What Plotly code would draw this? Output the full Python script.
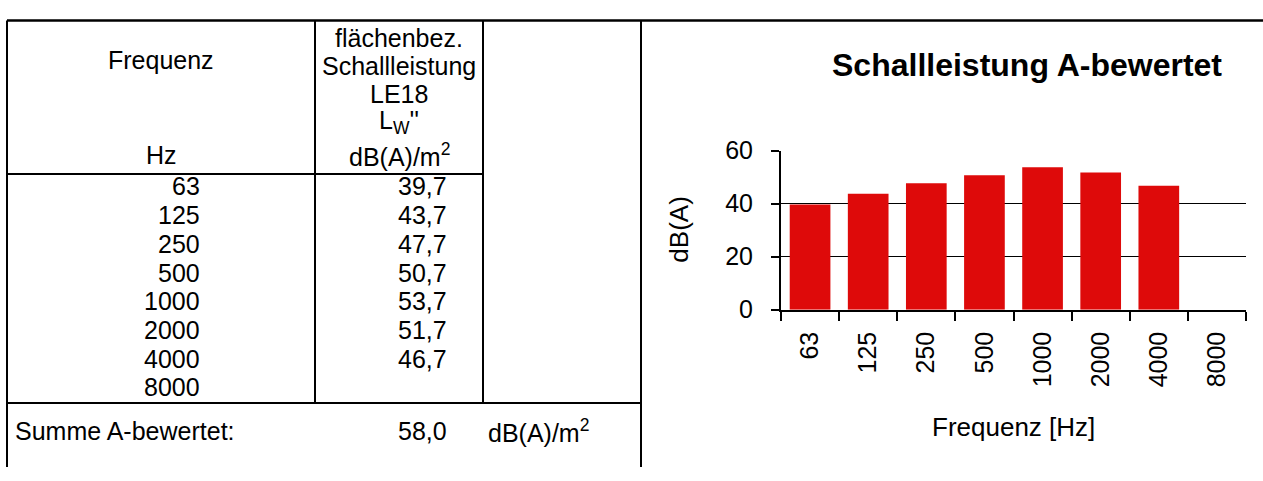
import plotly.graph_objects as go

# ---------------- data ----------------
freq_labels = ["63", "125", "250", "500", "1000", "2000", "4000", "8000"]
lw_values = [39.7, 43.7, 47.7, 50.7, 53.7, 51.7, 46.7, None]
sum_value = 58.0
y_ticks = [0, 20, 40, 60]

col1_header = ["Frequenz", "Hz"]
col2_header = ["flächenbez.", "Schallleistung", "LE18", "L<sub>W</sub>''", "dB(A)/m<sup>2</sup>"]
sum_label = "Summe A-bewertet:"
sum_unit = "dB(A)/m<sup>2</sup>"
chart_title = "<b>Schallleistung A-bewertet</b>"
x_title = "Frequenz [Hz]"
y_title = "dB(A)"

W, H = 1263, 481
FONT = "Liberation Sans, Arial, sans-serif"
RED = "#DE0A0A"


def px(x):
    return x / W


def py(y):
    return 1 - y / H


def de(v):
    return "" if v is None else f"{v:.1f}".replace(".", ",")


fig = go.Figure()
fig.add_trace(go.Bar(
    x=freq_labels, y=lw_values,
    marker=dict(color=RED, line=dict(width=0)),
    hoverinfo="x+y", showlegend=False,
))

fig.update_layout(
    width=W, height=H,
    margin=dict(l=0, r=0, t=0, b=0),
    paper_bgcolor="white", plot_bgcolor="white",
    bargap=0.3,
    font=dict(family=FONT, color="black", size=24),
    title=dict(text=chart_title, x=px(1027), xanchor="center", xref="paper",
               y=py(65), yanchor="middle", yref="container",
               font=dict(family=FONT, size=32, color="black")),
    xaxis=dict(
        type="category", domain=[px(781), px(1246)], range=[-0.5, 7.5],
        categoryorder="array", categoryarray=freq_labels,
        showline=True, linewidth=2, linecolor="black",
        ticks="outside", tickson="boundaries", ticklen=9, tickwidth=2, tickcolor="black",
        tickangle=-90, tickfont=dict(size=25, family=FONT, color="black"),
        ticklabelstandoff=10,
        showgrid=False, zeroline=False, fixedrange=True,
    ),
    yaxis=dict(
        domain=[py(314), py(145)], range=[0, 60],
        tickvals=y_ticks,
        showline=True, linewidth=2, linecolor="black",
        ticks="outside", ticklen=8, tickwidth=2, tickcolor="black",
        tickfont=dict(size=25, family=FONT, color="black"),
        ticklabelstandoff=13,
        showgrid=True, gridcolor="black", gridwidth=1,
        zeroline=False, fixedrange=True,
    ),
)

# ---------------- table borders ----------------
border_lines = [
    (7, 7, W, 7, 2.5),
    (7, 7, 7, H, 2),
    (315, 7, 315, 413, 2),
    (483, 7, 483, 413, 2),
    (641, 7, 641, H, 2),
    (7, 170, 483, 170, 2),
    (7, 413, 641, 413, 2),
]
for x0, y0, x1, y1, lw in border_lines:
    fig.add_shape(type="line", xref="paper", yref="paper",
                  x0=px(x0), y0=py(y0), x1=px(x1), y1=py(y1),
                  line=dict(color="black", width=lw))

TFS = 25


def ann(text, x, y, xanchor="center", size=TFS, **kw):
    fig.add_annotation(text=text, x=px(x), y=py(y), xref="paper", yref="paper",
                       xanchor=xanchor, yanchor="middle", showarrow=False,
                       font=dict(family=FONT, size=size, color="black"), **kw)


# header
ann(col1_header[0], 161, 49)
ann(col1_header[1], 161, 150)
for i, t in enumerate(col2_header):
    ann(t, 399, [25, 55, 85, 115, 150][i])

# rows
ROW0, PITCH = 183, 30.5
for i, (f, v) in enumerate(zip(freq_labels, lw_values)):
    y = ROW0 + i * PITCH
    ann(f, 202, y, xanchor="right")
    if v is not None:
        ann(de(v), 449, y, xanchor="right")

# sum row
ann(sum_label, 13, 443, xanchor="left")
ann(de(sum_value), 449, 443, xanchor="right")
ann(sum_unit, 486, 443, xanchor="left")

# axis titles
ann(x_title, 1013, 438, size=26)
ann(y_title, 679, 229, size=26, textangle=-90)

fig.write_html("out.html")
